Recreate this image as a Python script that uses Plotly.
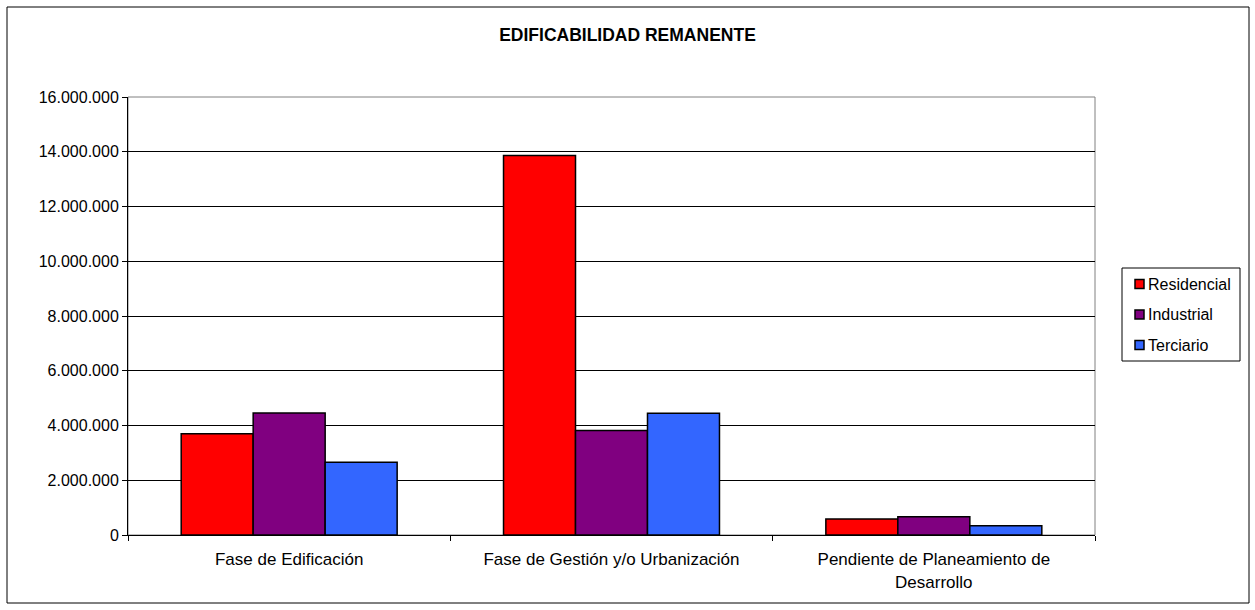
import plotly.graph_objects as go

categories = ["Fase de Edificación", "Fase de Gestión y/o Urbanización", "Pendiente de Planeamiento de<br>Desarrollo"]
residencial = [3700000, 13860000, 580000]
industrial = [4460000, 3820000, 670000]
terciario = [2660000, 4450000, 340000]
series_names = ["Residencial", "Industrial", "Terciario"]
colors = ["#FF0000", "#800080", "#3366FF"]
y_ticks = [0, 2000000, 4000000, 6000000, 8000000, 10000000, 12000000, 14000000, 16000000]

W, H = 1255, 610
L, R, T, B = 128, 1095, 97, 535


def px(x):
    return (x - L) / (R - L)


def py(y):
    return (B - y) / (B - T)


fig = go.Figure()
for i, (name, vals) in enumerate(zip(series_names, [residencial, industrial, terciario])):
    fig.add_trace(go.Bar(
        x=categories, y=vals, name=name, showlegend=False,
        marker=dict(color=colors[i], line=dict(color="black", width=1.5)),
    ))

fnt = "Liberation Sans, Arial, sans-serif"
fig.update_layout(
    width=W, height=H,
    margin=dict(l=L, r=W - R, t=T, b=H - B, pad=0, autoexpand=False),
    paper_bgcolor="white", plot_bgcolor="white",
    separators=",.",
    font=dict(family=fnt, size=16, color="black"),
    barmode="group", bargap=0.33, bargroupgap=0,
    showlegend=False,
    title=dict(text="<b>EDIFICABILIDAD REMANENTE</b>", x=0.5, xanchor="center",
               y=1 - 35 / H, yanchor="middle", font=dict(family=fnt, size=17.5, color="black")),
    xaxis=dict(type="category", ticks="outside", tickson="boundaries", ticklen=5,
               tickcolor="black", showline=True, linecolor="black", linewidth=1,
               showgrid=False, tickfont=dict(size=17), ticklabelstandoff=9),
    yaxis=dict(range=[0, 16000000], tickvals=y_ticks, tickformat=",.0f",
               ticks="outside", ticklen=5, tickcolor="black",
               showline=True, linecolor="black", linewidth=1,
               showgrid=True, gridcolor="black", gridwidth=1,
               zeroline=False, tickfont=dict(size=16)),
)

# plot area border (grey) and outer chart border
fig.add_shape(type="rect", xref="paper", yref="paper", x0=0, y0=0, x1=1, y1=1,
              line=dict(color="#808080", width=1), layer="below")
fig.add_shape(type="rect", xref="paper", yref="paper",
              x0=px(7), x1=px(1249), y0=py(603), y1=py(7),
              line=dict(color="black", width=1))

# legend box (custom, to match swatch placement)
fig.add_shape(type="rect", xref="paper", yref="paper",
              x0=px(1122), x1=px(1240), y0=py(361), y1=py(268),
              line=dict(color="black", width=1), fillcolor="white")
row_y = [284, 314.5, 345]
for name, c, yy in zip(series_names, colors, row_y):
    fig.add_shape(type="rect", xref="paper", yref="paper",
                  x0=px(1135), x1=px(1144), y0=py(yy + 4.5), y1=py(yy - 4.5),
                  line=dict(color="black", width=1.5), fillcolor=c)
    fig.add_annotation(xref="paper", yref="paper", x=px(1146), y=py(yy),
                       xanchor="left", yanchor="middle", text=name, showarrow=False,
                       font=dict(family=fnt, size=16, color="black"))

fig.write_html("out.html", config={"displayModeBar": False},
               post_script="document.body.style.margin='0';document.body.style.overflow='hidden';")
